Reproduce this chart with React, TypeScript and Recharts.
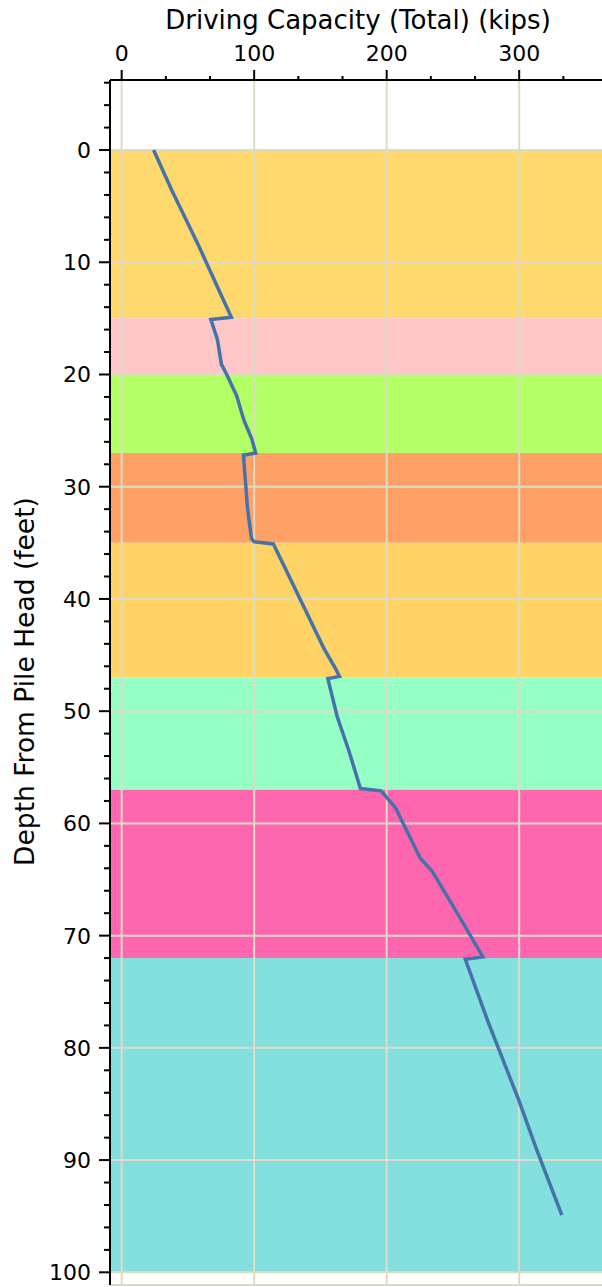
import React from 'react';
import { ComposedChart, XAxis, YAxis, Line, ReferenceArea, ReferenceLine } from 'recharts';

const depths = [0, 3.6, 8.6, 13.5, 14.9, 15.1, 16.9, 19.1, 20.0, 21.9, 24.1, 25.7, 27.0, 27.2, 31.8, 34.6, 34.9, 35.1, 40.1, 44.4, 46.2, 46.9, 47.1, 50.5, 53.5, 56.9, 57.1, 58.6, 63.1, 64.3, 67.7, 71.9, 72.1, 77.8, 84.6, 89.1, 94.9];
const capacities = [24.1, 37.9, 58.4, 77.3, 82.8, 67.3, 72.3, 75.3, 79.3, 86.8, 92.3, 98.1, 101.2, 91.9, 94.9, 97.9, 99.9, 114.5, 135.0, 152.6, 161.4, 164.4, 155.6, 162.7, 171.4, 180.2, 195.8, 206.6, 225.4, 234.5, 251.8, 272.6, 259.3, 276.9, 299.5, 313.3, 332.2];

const layerTops = [0, 15, 20, 27, 35, 47, 57, 72];
const layerBottoms = [15, 20, 27, 35, 47, 57, 72, 100];
const layerColors = ['#FFD96E', '#FFC6C8', '#B2FF66', '#FFA066', '#FFD366', '#96FFC6', '#FF66B0', '#84DFDF'];

const xTicks = [0, 33.33, 66.67, 100, 133.33, 166.67, 200, 233.33, 266.67, 300, 333.33];
const xMajorTicks = [0, 100, 200, 300];
const yTicks = [-6, -4, -2, 0, 2, 4, 6, 8, 10, 12, 14, 16, 18, 20, 22, 24, 26, 28, 30, 32, 34, 36, 38, 40, 42, 44, 46, 48, 50, 52, 54, 56, 58, 60, 62, 64, 66, 68, 70, 72, 74, 76, 78, 80, 82, 84, 86, 88, 90, 92, 94, 96, 98, 100];
const yMajorTicks = [0, 10, 20, 30, 40, 50, 60, 70, 80, 90, 100];
const xDomain = [-8.8, 362.5];
const yDomain = [-6.24, 101.13];

const xTitle = 'Driving Capacity (Total) (kips)';
const yTitle = 'Depth From Pile Head (feet)';

const data = depths.map((d, i) => ({ depth: d, cap: capacities[i] }));

const FONT = 'DejaVu Sans';
const GRID = '#DCDCC4';

const XTick = (props: any) => {
  const { x, y, payload } = props;
  const v = payload.value;
  const major = xMajorTicks.some((m) => Math.abs(m - v) < 0.5);
  return (
    <g>
      <line x1={x} x2={x} y1={y} y2={y - (major ? 10 : 4)} stroke="#000" strokeWidth={2} />
      {major && (
        <text x={x} y={y - 19} textAnchor="middle" fontSize={22} fontFamily={FONT} fill="#000">
          {Math.round(v)}
        </text>
      )}
    </g>
  );
};

const YTick = (props: any) => {
  const { x, y, payload } = props;
  const v = payload.value;
  const major = yMajorTicks.includes(v);
  return (
    <g>
      <line x1={x} x2={x - (major ? 11 : 6)} y1={y} y2={y} stroke="#000" strokeWidth={2} />
      {major && (
        <text x={x - 19} y={y} dy="0.36em" textAnchor="end" fontSize={22} fontFamily={FONT} fill="#000">
          {v}
        </text>
      )}
    </g>
  );
};

const XTitle = (props: any) => {
  const vb = props.viewBox || { x: 110, y: 0, width: 492, height: 80 };
  return (
    <text x={vb.x + vb.width / 2 + 2} y={29} textAnchor="middle" fontSize={26} fontFamily={FONT} fill="#000">
      {xTitle}
    </text>
  );
};

const YTitle = (props: any) => {
  const vb = props.viewBox || { x: 0, y: 80, width: 110, height: 1205 };
  const cy = vb.y + vb.height / 2 - 1;
  return (
    <text x={34} y={cy} transform={`rotate(-90, 34, ${cy})`} textAnchor="middle" fontSize={26.5} fontFamily={FONT} fill="#000">
      {yTitle}
    </text>
  );
};

export default function App() {
  return (
    <div style={{ position: 'absolute', left: 0, top: 0, width: 602, height: 1287, background: '#fff', fontFamily: FONT, overflow: 'hidden' }}>
      <ComposedChart
        layout="vertical"
        width={602}
        height={1287}
        data={data}
        margin={{ top: 0, right: 0, bottom: 2, left: 0 }}
      >
        <XAxis
          type="number"
          orientation="top"
          domain={xDomain}
          allowDataOverflow
          ticks={xTicks}
          interval={0}
          height={80}
          tickSize={0}
          tickMargin={0}
          tickLine={false}
          tick={XTick}
          axisLine={{ stroke: '#000', strokeWidth: 2 }}
          label={{ content: XTitle }}
        />
        <YAxis
          type="number"
          dataKey="depth"
          domain={yDomain}
          allowDataOverflow
          ticks={yTicks}
          interval={0}
          width={110}
          tickSize={0}
          tickMargin={0}
          tickLine={false}
          tick={YTick}
          axisLine={{ stroke: '#000', strokeWidth: 2 }}
          label={{ content: YTitle }}
        />
        {layerTops.map((t, i) => (
          <ReferenceArea key={`band-${i}`} y1={t} y2={layerBottoms[i]} fill={layerColors[i]} fillOpacity={1} stroke="none" ifOverflow="hidden" />
        ))}
        {xMajorTicks.map((v) => (
          <ReferenceLine key={`gx-${v}`} x={v} stroke={GRID} strokeWidth={2} />
        ))}
        {yMajorTicks.map((v) => (
          <ReferenceLine key={`gy-${v}`} y={v} stroke={GRID} strokeWidth={2} />
        ))}
        <ReferenceLine y={yDomain[1]} stroke={GRID} strokeWidth={2} ifOverflow="visible" />
        <Line
          dataKey="cap"
          type="linear"
          stroke="#4672AA"
          strokeWidth={3.5}
          dot={false}
          activeDot={false}
          isAnimationActive={false}
        />
      </ComposedChart>
    </div>
  );
}
